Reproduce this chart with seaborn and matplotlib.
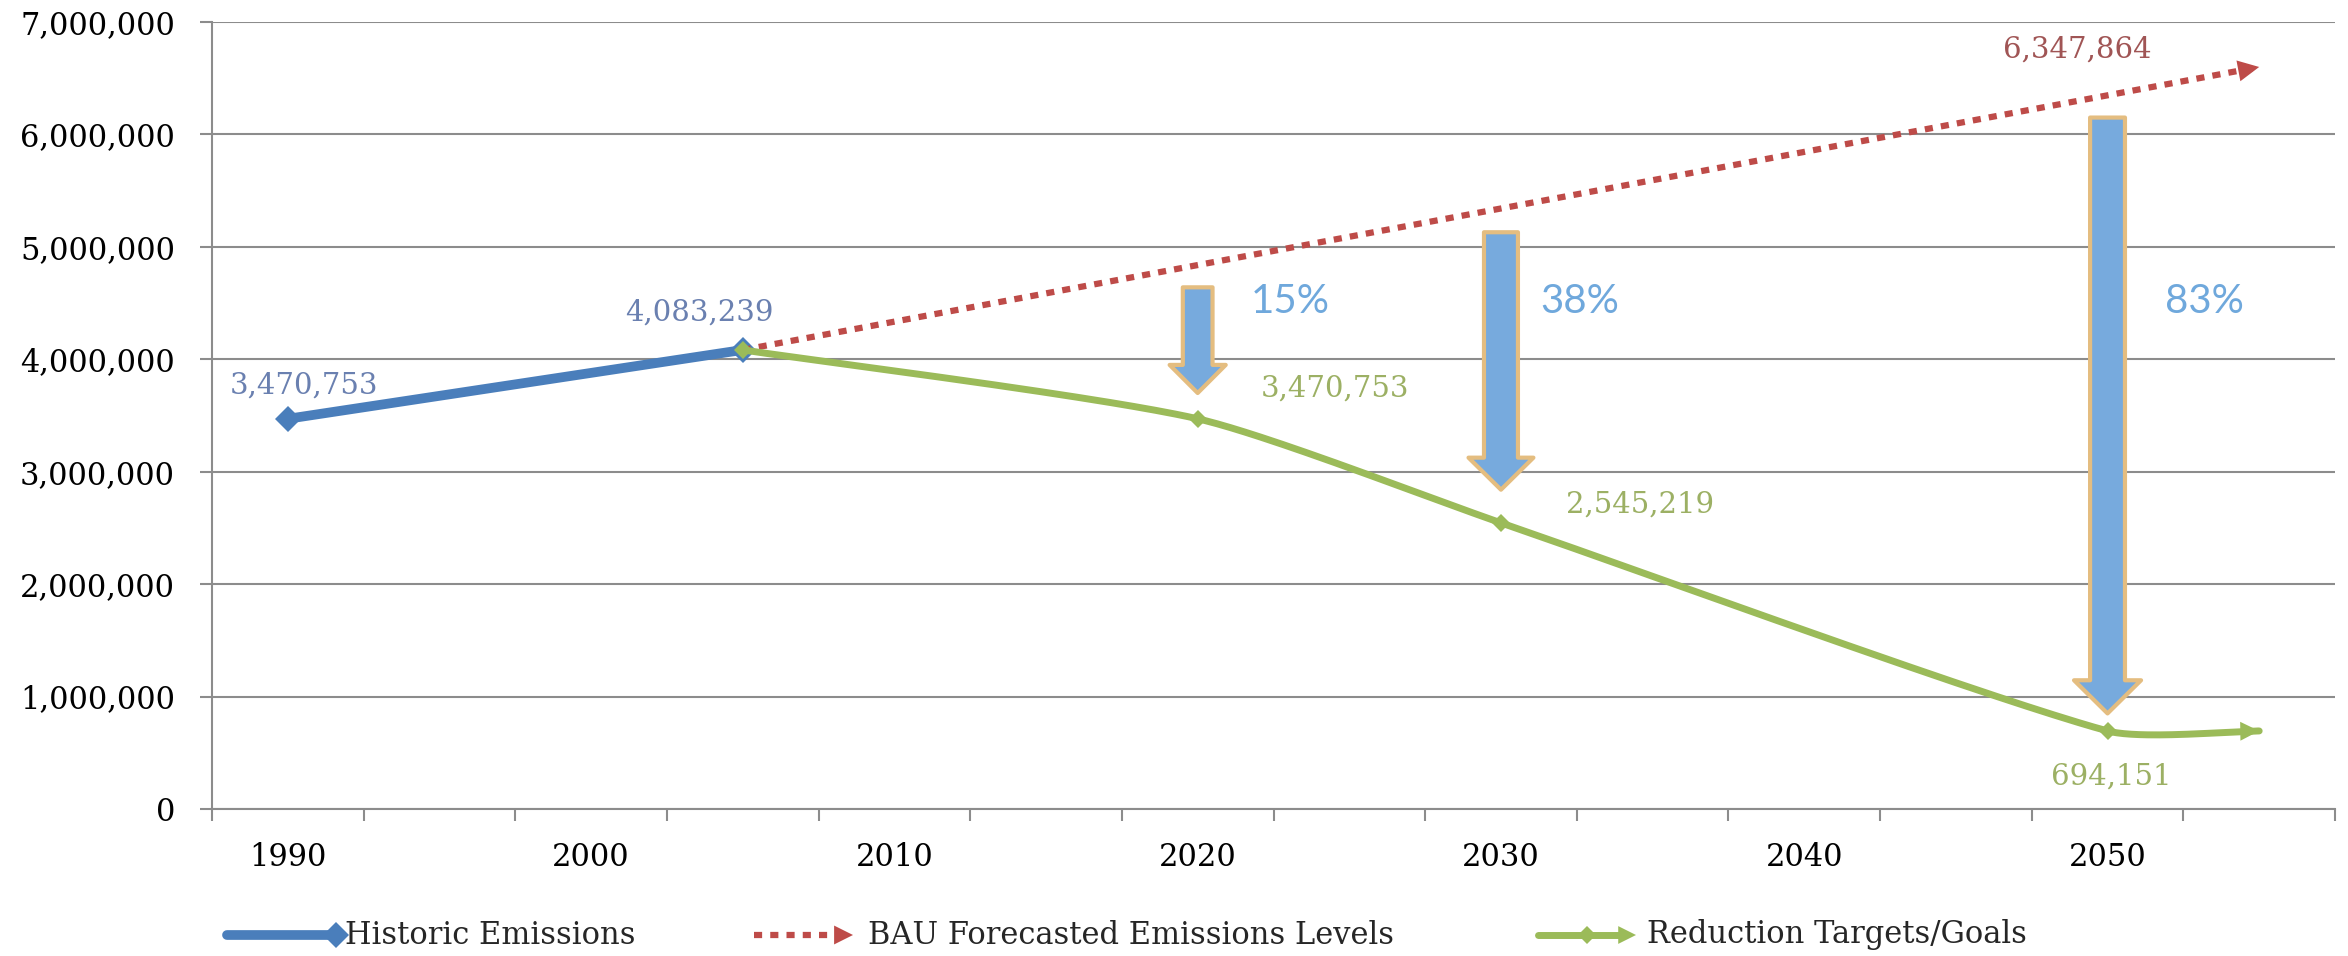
import numpy as np
import pandas as pd
import matplotlib
matplotlib.use("Agg")
import matplotlib.pyplot as plt
import seaborn as sns
from matplotlib.lines import Line2D
from matplotlib.patches import FancyArrow, FancyArrowPatch

# ---------------- data ----------------
axis_years = [1990, 1995, 2000, 2005, 2010, 2015, 2020, 2025, 2030, 2035, 2040, 2045, 2050, 2055]
tick_label_years = [1990, 2000, 2010, 2020, 2030, 2040, 2050]
y_tick_values = [0, 1000000, 2000000, 3000000, 4000000, 5000000, 6000000, 7000000]

hist_years = [1990, 2005]
hist_values = [3470753, 4083239]

bau_years = [2005, 2050, 2055]
bau_values = [4083239, 6347864, 6600000]

target_years = [2005, 2020, 2030, 2050, 2055]
target_values = [4083239, 3470753, 2545219, 694151, 694151]

reduction_years = [2020, 2030, 2050]
reduction_pcts = ["15%", "38%", "83%"]
reduction_tops = [4640000, 5130000, 6150000]
reduction_tips = [3700000, 2840000, 850000]

legend_labels = ["Historic Emissions", "BAU Forecasted Emissions Levels", "Reduction Targets/Goals"]

# ---------------- style ----------------
W, H = 2348, 956
BLUE = "#4A7EBB"
RED = "#BE4B48"
GREEN = "#9BBB59"
BLUE_LBL = "#6A80B0"
GREEN_LBL = "#9CB064"
RED_LBL = "#A05555"
GRID = "#8C8C8C"
ARROW_FILL = "#77AADD"
ARROW_EDGE = "#E4BD80"
PCT_COLOR = "#6FA8DC"
SERIF = "DejaVu Serif"

sns.set_theme(style="white")
plt.rcParams["font.family"] = [SERIF, "DejaVu Sans"]

fig = plt.figure(figsize=(W / 100, H / 100), dpi=100)
fig.patch.set_facecolor("white")
ax = fig.add_axes([212 / W, 1 - 809 / H, (2335 - 212) / W, (809 - 22) / H])
ax.set_facecolor("white")

x_lo = axis_years[0] - 2.5
x_hi = axis_years[-1] + 2.5
ax.set_xlim(x_lo, x_hi)
ax.set_ylim(y_tick_values[0], y_tick_values[-1])

# grid & spines
for s in ["top", "right"]:
    ax.spines[s].set_visible(False)
for s in ["left", "bottom"]:
    ax.spines[s].set_color(GRID)
    ax.spines[s].set_linewidth(1.5)
ax.set_yticks(y_tick_values)
ax.set_yticklabels([f"{v:,}" for v in y_tick_values])
ax.yaxis.grid(True, color=GRID, linewidth=1.5)
ax.xaxis.grid(False)
ax.set_axisbelow(True)
ax.tick_params(axis="y", which="major", direction="out", length=8.6, width=1.5,
               color=GRID, pad=18, labelsize=22, labelcolor="black", left=True)

boundaries = [y - 2.5 for y in axis_years] + [axis_years[-1] + 2.5]
ax.set_xticks(boundaries)
ax.set_xticklabels([])
ax.set_xticks(tick_label_years, minor=True)
ax.set_xticklabels([str(y) for y in tick_label_years], minor=True)
ax.tick_params(axis="x", which="major", direction="out", length=8.6, width=1.5,
               color=GRID, bottom=True)
ax.tick_params(axis="x", which="minor", length=0, pad=24, labelsize=22,
               labelcolor="black", bottom=True)
for lbl in ax.get_xticklabels(minor=True) + ax.get_yticklabels():
    lbl.set_family(SERIF)

# ---------------- series ----------------
df_hist = pd.DataFrame({"year": hist_years, "value": hist_values})
sns.lineplot(data=df_hist, x="year", y="value", ax=ax, color=BLUE, linewidth=7,
             marker="D", markersize=13, markeredgewidth=0, sort=False, zorder=3)

df_bau = pd.DataFrame({"year": bau_years, "value": bau_values})
sns.lineplot(data=df_bau, x="year", y="value", ax=ax, color=RED, linewidth=4.5,
             sort=False, zorder=3)
ax.lines[-1].set_linestyle((0, (1.3, 1.3)))
ax.lines[-1].set_dash_capstyle("butt")


def excel_smooth(axis, xs, ys, n=60, clamp=0.22):
    pts = axis.transData.transform(np.column_stack([xs, ys]))
    P = np.vstack([pts[0], pts, pts[-1]])
    out = []
    for i in range(1, len(P) - 2):
        p0, p1, p2, p3 = P[i - 1], P[i], P[i + 1], P[i + 2]
        seg = np.linalg.norm(p2 - p1)
        d1 = (p2 - p0) / 6
        d2 = (p3 - p1) / 6
        for d in (d1, d2):
            ln = np.linalg.norm(d)
            if ln > clamp * seg:
                d *= clamp * seg / ln
        c1 = p1 + d1
        c2 = p2 - d2
        t = np.linspace(0, 1, n)[:, None]
        b = (1 - t) ** 3 * p1 + 3 * (1 - t) ** 2 * t * c1 + 3 * (1 - t) * t ** 2 * c2 + t ** 3 * p2
        out.append(b if i == 1 else b[1:])
    curve = np.vstack(out)
    return axis.transData.inverted().transform(curve)


smooth = excel_smooth(ax, target_years, target_values)
df_smooth = pd.DataFrame({"year": smooth[:, 0], "value": smooth[:, 1]})
sns.lineplot(data=df_smooth, x="year", y="value", ax=ax, color=GREEN, linewidth=5,
             sort=False, zorder=4)
df_tmark = pd.DataFrame({"year": target_years[:-1], "value": target_values[:-1]})
ax.plot(df_tmark["year"], df_tmark["value"], linestyle="none", marker="D",
        markersize=9, color=GREEN, markeredgewidth=0, zorder=5)

ax.set_xlabel("")
ax.set_ylabel("")


def end_arrow(axis, tip, prev, color, scale):
    tip = np.asarray(tip, dtype=float)
    prev = np.asarray(prev, dtype=float)
    back = tip + 0.02 * (prev - tip)
    axis.annotate("", xy=tuple(tip), xytext=tuple(back),
                  arrowprops=dict(arrowstyle="-|>", color=color, lw=0,
                                  mutation_scale=scale, shrinkA=0, shrinkB=0),
                  zorder=6)


end_arrow(ax, (bau_years[-1], bau_values[-1]), (bau_years[-2], bau_values[-2]), RED, 38)
end_arrow(ax, smooth[-1], smooth[-4], GREEN, 34)

# ---------------- data labels ----------------
def dlabel(x, y, text, color, dx, dy, ha="center"):
    ax.annotate(text, xy=(x, y), xytext=(dx, dy), textcoords="offset points",
                ha=ha, va="center", color=color, fontsize=21, family=SERIF, zorder=7)


dlabel(hist_years[0], hist_values[0], f"{hist_values[0]:,}", BLUE_LBL, 12, 24)
dlabel(hist_years[1], hist_values[1], f"{hist_values[1]:,}", BLUE_LBL, -31, 27)
dlabel(target_years[1], target_values[1], f"{target_values[1]:,}", GREEN_LBL, 99, 22)
dlabel(target_years[2], target_values[2], f"{target_values[2]:,}", GREEN_LBL, 100, 13)
dlabel(target_years[3], target_values[3], f"{target_values[3]:,}", GREEN_LBL, 3, -33)
dlabel(bau_years[1], bau_values[1], f"{bau_values[1]:,}", RED_LBL, -22, 33)

# ---------------- reduction arrows ----------------
shaft_w = [0.98, 1.12, 1.15]
head_w = [1.85, 2.14, 2.21]
head_l = [250000, 285000, 295000]
pct_x = [2023.05, 2032.6, 2053.2]
pct_y = 4510000
for yr, top, tip, pct, sw, hw, hl, px in zip(reduction_years, reduction_tops, reduction_tips,
                                             reduction_pcts, shaft_w, head_w, head_l, pct_x):
    arr = FancyArrow(yr, top, 0, tip - top, width=sw, head_width=hw, head_length=hl,
                     length_includes_head=True, facecolor=ARROW_FILL, edgecolor=ARROW_EDGE,
                     linewidth=3, joinstyle="round", zorder=8)
    ax.add_patch(arr)
    ax.text(px, pct_y, pct, ha="center", va="center", color=PCT_COLOR, fontsize=29,
            family=["Lato", "DejaVu Sans"], zorder=9)

# ---------------- legend (manual) ----------------
def F(x, y):
    return (x / W, 1 - y / H)


ly = 935
# Historic
fig.add_artist(Line2D([F(227, ly)[0], F(336, ly)[0]], [F(0, ly)[1]] * 2,
                      transform=fig.transFigure, color=BLUE, linewidth=7, solid_capstyle="round"))
fig.add_artist(Line2D([F(336, ly)[0]], [F(0, ly)[1]], transform=fig.transFigure,
                      marker="D", markersize=13, color=BLUE, markeredgewidth=0, linestyle="none"))
fig.text(*F(345, ly), legend_labels[0], ha="left", va="center", fontsize=22, family=SERIF)
# BAU
fig.add_artist(Line2D([F(754, ly)[0], F(838, ly)[0]], [F(0, ly)[1]] * 2,
                      transform=fig.transFigure, color=RED, linewidth=4.5,
                      linestyle=(0, (1.3, 1.3)), dash_capstyle="butt"))
fig.add_artist(FancyArrowPatch(F(850, ly), F(853, ly), transform=fig.transFigure,
                               arrowstyle="-|>", mutation_scale=34, color=RED, lw=0,
                               shrinkA=0, shrinkB=0))
fig.text(*F(868, ly), legend_labels[1], ha="left", va="center", fontsize=22, family=SERIF)
# Targets
fig.add_artist(Line2D([F(1538, ly)[0], F(1625, ly)[0]], [F(0, ly)[1]] * 2,
                      transform=fig.transFigure, color=GREEN, linewidth=5))
fig.add_artist(Line2D([F(1587, ly)[0]], [F(0, ly)[1]], transform=fig.transFigure,
                      marker="D", markersize=9, color=GREEN, markeredgewidth=0, linestyle="none"))
fig.add_artist(FancyArrowPatch(F(1633, ly), F(1636, ly), transform=fig.transFigure,
                               arrowstyle="-|>", mutation_scale=32, color=GREEN, lw=0,
                               shrinkA=0, shrinkB=0))
fig.text(*F(1647, ly), legend_labels[2], ha="left", va="center", fontsize=22, family=SERIF)

fig.savefig("out.png", dpi=100, facecolor="white")
